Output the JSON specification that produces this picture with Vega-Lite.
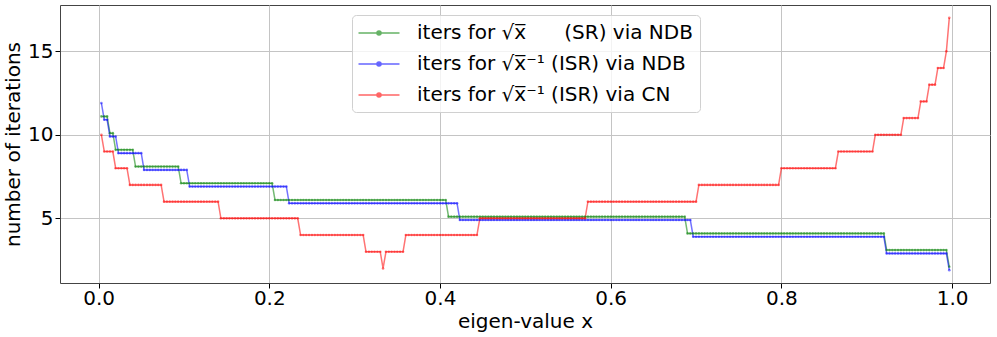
{
  "$schema": "https://vega.github.io/schema/vega-lite/v6.json",
  "width": 930,
  "height": 278,
  "autosize": {"type": "none"},
  "padding": {"left": 60, "top": 5, "right": 7, "bottom": 54},
  "config": {
    "font": "DejaVu Sans",
    "view": {"stroke": "#444", "strokeWidth": 1},
    "axis": {
      "labelFontSize": 20, "titleFontSize": 20, "titleFontWeight": "normal",
      "labelColor": "#000", "titleColor": "#000", "tickColor": "#000",
      "tickSize": 5, "domain": false, "gridColor": "#c4c4c4", "gridWidth": 1,
      "labelFont": "DejaVu Sans", "titleFont": "DejaVu Sans"
    },
    "legend": {"labelFont": "DejaVu Sans"}
  },
  "data": {"values": [
    {"x":0.0033,"g":11.1,"b":11.9,"r":10},
    {"x":0.0067,"g":11.1,"b":10.9,"r":9},{"x":0.01,"g":11.1,"b":10.9,"r":9},
    {"x":0.0133,"g":10.1,"b":9.9,"r":9},{"x":0.0167,"g":10.1,"b":9.9,"r":9},
    {"x":0.02,"g":9.1,"b":9.9,"r":8},
    {"x":0.0233,"g":9.1,"b":8.9,"r":8},{"x":0.0267,"g":9.1,"b":8.9,"r":8},{"x":0.03,"g":9.1,"b":8.9,"r":8},{"x":0.0333,"g":9.1,"b":8.9,"r":8},
    {"x":0.0367,"g":9.1,"b":8.9,"r":7},{"x":0.04,"g":9.1,"b":8.9,"r":7},
    {"x":0.0433,"g":8.1,"b":8.9,"r":7},{"x":0.0467,"g":8.1,"b":8.9,"r":7},{"x":0.05,"g":8.1,"b":8.9,"r":7},
    {"x":0.0533,"g":8.1,"b":7.9,"r":7},{"x":0.0567,"g":8.1,"b":7.9,"r":7},{"x":0.06,"g":8.1,"b":7.9,"r":7},{"x":0.0633,"g":8.1,"b":7.9,"r":7},{"x":0.0667,"g":8.1,"b":7.9,"r":7},{"x":0.07,"g":8.1,"b":7.9,"r":7},{"x":0.0733,"g":8.1,"b":7.9,"r":7},
    {"x":0.0767,"g":8.1,"b":7.9,"r":6},{"x":0.08,"g":8.1,"b":7.9,"r":6},{"x":0.0833,"g":8.1,"b":7.9,"r":6},{"x":0.0867,"g":8.1,"b":7.9,"r":6},{"x":0.09,"g":8.1,"b":7.9,"r":6},{"x":0.0933,"g":8.1,"b":7.9,"r":6},
    {"x":0.0967,"g":7.1,"b":7.9,"r":6},{"x":0.1,"g":7.1,"b":7.9,"r":6},{"x":0.1033,"g":7.1,"b":7.9,"r":6},
    {"x":0.1067,"g":7.1,"b":6.9,"r":6},{"x":0.11,"g":7.1,"b":6.9,"r":6},{"x":0.1133,"g":7.1,"b":6.9,"r":6},{"x":0.1167,"g":7.1,"b":6.9,"r":6},{"x":0.12,"g":7.1,"b":6.9,"r":6},{"x":0.1233,"g":7.1,"b":6.9,"r":6},{"x":0.1267,"g":7.1,"b":6.9,"r":6},{"x":0.13,"g":7.1,"b":6.9,"r":6},{"x":0.1333,"g":7.1,"b":6.9,"r":6},{"x":0.1367,"g":7.1,"b":6.9,"r":6},{"x":0.14,"g":7.1,"b":6.9,"r":6},
    {"x":0.1433,"g":7.1,"b":6.9,"r":5},{"x":0.1467,"g":7.1,"b":6.9,"r":5},{"x":0.15,"g":7.1,"b":6.9,"r":5},{"x":0.1533,"g":7.1,"b":6.9,"r":5},{"x":0.1567,"g":7.1,"b":6.9,"r":5},{"x":0.16,"g":7.1,"b":6.9,"r":5},{"x":0.1633,"g":7.1,"b":6.9,"r":5},{"x":0.1667,"g":7.1,"b":6.9,"r":5},{"x":0.17,"g":7.1,"b":6.9,"r":5},{"x":0.1733,"g":7.1,"b":6.9,"r":5},{"x":0.1767,"g":7.1,"b":6.9,"r":5},{"x":0.18,"g":7.1,"b":6.9,"r":5},{"x":0.1833,"g":7.1,"b":6.9,"r":5},{"x":0.1867,"g":7.1,"b":6.9,"r":5},{"x":0.19,"g":7.1,"b":6.9,"r":5},{"x":0.1933,"g":7.1,"b":6.9,"r":5},{"x":0.1967,"g":7.1,"b":6.9,"r":5},{"x":0.2,"g":7.1,"b":6.9,"r":5},{"x":0.2033,"g":7.1,"b":6.9,"r":5},
    {"x":0.2067,"g":6.1,"b":6.9,"r":5},{"x":0.21,"g":6.1,"b":6.9,"r":5},{"x":0.2133,"g":6.1,"b":6.9,"r":5},{"x":0.2167,"g":6.1,"b":6.9,"r":5},{"x":0.22,"g":6.1,"b":6.9,"r":5},
    {"x":0.2233,"g":6.1,"b":5.9,"r":5},{"x":0.2267,"g":6.1,"b":5.9,"r":5},{"x":0.23,"g":6.1,"b":5.9,"r":5},{"x":0.2333,"g":6.1,"b":5.9,"r":5},
    {"x":0.2367,"g":6.1,"b":5.9,"r":4},{"x":0.24,"g":6.1,"b":5.9,"r":4},{"x":0.2433,"g":6.1,"b":5.9,"r":4},{"x":0.2467,"g":6.1,"b":5.9,"r":4},{"x":0.25,"g":6.1,"b":5.9,"r":4},{"x":0.2533,"g":6.1,"b":5.9,"r":4},{"x":0.2567,"g":6.1,"b":5.9,"r":4},{"x":0.26,"g":6.1,"b":5.9,"r":4},{"x":0.2633,"g":6.1,"b":5.9,"r":4},{"x":0.2667,"g":6.1,"b":5.9,"r":4},{"x":0.27,"g":6.1,"b":5.9,"r":4},{"x":0.2733,"g":6.1,"b":5.9,"r":4},{"x":0.2767,"g":6.1,"b":5.9,"r":4},{"x":0.28,"g":6.1,"b":5.9,"r":4},{"x":0.2833,"g":6.1,"b":5.9,"r":4},{"x":0.2867,"g":6.1,"b":5.9,"r":4},{"x":0.29,"g":6.1,"b":5.9,"r":4},{"x":0.2933,"g":6.1,"b":5.9,"r":4},{"x":0.2967,"g":6.1,"b":5.9,"r":4},{"x":0.3,"g":6.1,"b":5.9,"r":4},{"x":0.3033,"g":6.1,"b":5.9,"r":4},{"x":0.3067,"g":6.1,"b":5.9,"r":4},{"x":0.31,"g":6.1,"b":5.9,"r":4},
    {"x":0.3133,"g":6.1,"b":5.9,"r":3},{"x":0.3167,"g":6.1,"b":5.9,"r":3},{"x":0.32,"g":6.1,"b":5.9,"r":3},{"x":0.3233,"g":6.1,"b":5.9,"r":3},{"x":0.3267,"g":6.1,"b":5.9,"r":3},{"x":0.33,"g":6.1,"b":5.9,"r":3},
    {"x":0.3333,"g":6.1,"b":5.9,"r":2},
    {"x":0.3367,"g":6.1,"b":5.9,"r":3},{"x":0.34,"g":6.1,"b":5.9,"r":3},{"x":0.3433,"g":6.1,"b":5.9,"r":3},{"x":0.3467,"g":6.1,"b":5.9,"r":3},{"x":0.35,"g":6.1,"b":5.9,"r":3},{"x":0.3533,"g":6.1,"b":5.9,"r":3},{"x":0.3567,"g":6.1,"b":5.9,"r":3},
    {"x":0.36,"g":6.1,"b":5.9,"r":4},{"x":0.3633,"g":6.1,"b":5.9,"r":4},{"x":0.3667,"g":6.1,"b":5.9,"r":4},{"x":0.37,"g":6.1,"b":5.9,"r":4},{"x":0.3733,"g":6.1,"b":5.9,"r":4},{"x":0.3767,"g":6.1,"b":5.9,"r":4},{"x":0.38,"g":6.1,"b":5.9,"r":4},{"x":0.3833,"g":6.1,"b":5.9,"r":4},{"x":0.3867,"g":6.1,"b":5.9,"r":4},{"x":0.39,"g":6.1,"b":5.9,"r":4},{"x":0.3933,"g":6.1,"b":5.9,"r":4},{"x":0.3967,"g":6.1,"b":5.9,"r":4},{"x":0.4,"g":6.1,"b":5.9,"r":4},{"x":0.4033,"g":6.1,"b":5.9,"r":4},{"x":0.4067,"g":6.1,"b":5.9,"r":4},
    {"x":0.41,"g":5.1,"b":5.9,"r":4},{"x":0.4133,"g":5.1,"b":5.9,"r":4},{"x":0.4167,"g":5.1,"b":5.9,"r":4},{"x":0.42,"g":5.1,"b":5.9,"r":4},
    {"x":0.4233,"g":5.1,"b":4.9,"r":4},{"x":0.4267,"g":5.1,"b":4.9,"r":4},{"x":0.43,"g":5.1,"b":4.9,"r":4},{"x":0.4333,"g":5.1,"b":4.9,"r":4},{"x":0.4367,"g":5.1,"b":4.9,"r":4},{"x":0.44,"g":5.1,"b":4.9,"r":4},{"x":0.4433,"g":5.1,"b":4.9,"r":4},
    {"x":0.4467,"g":5.1,"b":4.9,"r":5},{"x":0.45,"g":5.1,"b":4.9,"r":5},{"x":0.4533,"g":5.1,"b":4.9,"r":5},{"x":0.4567,"g":5.1,"b":4.9,"r":5},{"x":0.46,"g":5.1,"b":4.9,"r":5},{"x":0.4633,"g":5.1,"b":4.9,"r":5},{"x":0.4667,"g":5.1,"b":4.9,"r":5},{"x":0.47,"g":5.1,"b":4.9,"r":5},{"x":0.4733,"g":5.1,"b":4.9,"r":5},{"x":0.4767,"g":5.1,"b":4.9,"r":5},{"x":0.48,"g":5.1,"b":4.9,"r":5},{"x":0.4833,"g":5.1,"b":4.9,"r":5},{"x":0.4867,"g":5.1,"b":4.9,"r":5},{"x":0.49,"g":5.1,"b":4.9,"r":5},{"x":0.4933,"g":5.1,"b":4.9,"r":5},{"x":0.4967,"g":5.1,"b":4.9,"r":5},{"x":0.5,"g":5.1,"b":4.9,"r":5},{"x":0.5033,"g":5.1,"b":4.9,"r":5},{"x":0.5067,"g":5.1,"b":4.9,"r":5},{"x":0.51,"g":5.1,"b":4.9,"r":5},{"x":0.5133,"g":5.1,"b":4.9,"r":5},{"x":0.5167,"g":5.1,"b":4.9,"r":5},{"x":0.52,"g":5.1,"b":4.9,"r":5},{"x":0.5233,"g":5.1,"b":4.9,"r":5},{"x":0.5267,"g":5.1,"b":4.9,"r":5},{"x":0.53,"g":5.1,"b":4.9,"r":5},{"x":0.5333,"g":5.1,"b":4.9,"r":5},{"x":0.5367,"g":5.1,"b":4.9,"r":5},{"x":0.54,"g":5.1,"b":4.9,"r":5},{"x":0.5433,"g":5.1,"b":4.9,"r":5},{"x":0.5467,"g":5.1,"b":4.9,"r":5},{"x":0.55,"g":5.1,"b":4.9,"r":5},{"x":0.5533,"g":5.1,"b":4.9,"r":5},{"x":0.5567,"g":5.1,"b":4.9,"r":5},{"x":0.56,"g":5.1,"b":4.9,"r":5},{"x":0.5633,"g":5.1,"b":4.9,"r":5},{"x":0.5667,"g":5.1,"b":4.9,"r":5},{"x":0.57,"g":5.1,"b":4.9,"r":5},
    {"x":0.5733,"g":5.1,"b":4.9,"r":6},{"x":0.5767,"g":5.1,"b":4.9,"r":6},{"x":0.58,"g":5.1,"b":4.9,"r":6},{"x":0.5833,"g":5.1,"b":4.9,"r":6},{"x":0.5867,"g":5.1,"b":4.9,"r":6},{"x":0.59,"g":5.1,"b":4.9,"r":6},{"x":0.5933,"g":5.1,"b":4.9,"r":6},{"x":0.5967,"g":5.1,"b":4.9,"r":6},{"x":0.6,"g":5.1,"b":4.9,"r":6},{"x":0.6033,"g":5.1,"b":4.9,"r":6},{"x":0.6067,"g":5.1,"b":4.9,"r":6},{"x":0.61,"g":5.1,"b":4.9,"r":6},{"x":0.6133,"g":5.1,"b":4.9,"r":6},{"x":0.6167,"g":5.1,"b":4.9,"r":6},{"x":0.62,"g":5.1,"b":4.9,"r":6},{"x":0.6233,"g":5.1,"b":4.9,"r":6},{"x":0.6267,"g":5.1,"b":4.9,"r":6},{"x":0.63,"g":5.1,"b":4.9,"r":6},{"x":0.6333,"g":5.1,"b":4.9,"r":6},{"x":0.6367,"g":5.1,"b":4.9,"r":6},{"x":0.64,"g":5.1,"b":4.9,"r":6},{"x":0.6433,"g":5.1,"b":4.9,"r":6},{"x":0.6467,"g":5.1,"b":4.9,"r":6},{"x":0.65,"g":5.1,"b":4.9,"r":6},{"x":0.6533,"g":5.1,"b":4.9,"r":6},{"x":0.6567,"g":5.1,"b":4.9,"r":6},{"x":0.66,"g":5.1,"b":4.9,"r":6},{"x":0.6633,"g":5.1,"b":4.9,"r":6},{"x":0.6667,"g":5.1,"b":4.9,"r":6},{"x":0.67,"g":5.1,"b":4.9,"r":6},{"x":0.6733,"g":5.1,"b":4.9,"r":6},{"x":0.6767,"g":5.1,"b":4.9,"r":6},{"x":0.68,"g":5.1,"b":4.9,"r":6},{"x":0.6833,"g":5.1,"b":4.9,"r":6},{"x":0.6867,"g":5.1,"b":4.9,"r":6},
    {"x":0.69,"g":4.1,"b":4.9,"r":6},{"x":0.6933,"g":4.1,"b":4.9,"r":6},
    {"x":0.6967,"g":4.1,"b":3.9,"r":6},{"x":0.7,"g":4.1,"b":3.9,"r":6},
    {"x":0.7033,"g":4.1,"b":3.9,"r":7},{"x":0.7067,"g":4.1,"b":3.9,"r":7},{"x":0.71,"g":4.1,"b":3.9,"r":7},{"x":0.7133,"g":4.1,"b":3.9,"r":7},{"x":0.7167,"g":4.1,"b":3.9,"r":7},{"x":0.72,"g":4.1,"b":3.9,"r":7},{"x":0.7233,"g":4.1,"b":3.9,"r":7},{"x":0.7267,"g":4.1,"b":3.9,"r":7},{"x":0.73,"g":4.1,"b":3.9,"r":7},{"x":0.7333,"g":4.1,"b":3.9,"r":7},{"x":0.7367,"g":4.1,"b":3.9,"r":7},{"x":0.74,"g":4.1,"b":3.9,"r":7},{"x":0.7433,"g":4.1,"b":3.9,"r":7},{"x":0.7467,"g":4.1,"b":3.9,"r":7},{"x":0.75,"g":4.1,"b":3.9,"r":7},{"x":0.7533,"g":4.1,"b":3.9,"r":7},{"x":0.7567,"g":4.1,"b":3.9,"r":7},{"x":0.76,"g":4.1,"b":3.9,"r":7},{"x":0.7633,"g":4.1,"b":3.9,"r":7},{"x":0.7667,"g":4.1,"b":3.9,"r":7},{"x":0.77,"g":4.1,"b":3.9,"r":7},{"x":0.7733,"g":4.1,"b":3.9,"r":7},{"x":0.7767,"g":4.1,"b":3.9,"r":7},{"x":0.78,"g":4.1,"b":3.9,"r":7},{"x":0.7833,"g":4.1,"b":3.9,"r":7},{"x":0.7867,"g":4.1,"b":3.9,"r":7},{"x":0.79,"g":4.1,"b":3.9,"r":7},{"x":0.7933,"g":4.1,"b":3.9,"r":7},{"x":0.7967,"g":4.1,"b":3.9,"r":7},
    {"x":0.8,"g":4.1,"b":3.9,"r":8},{"x":0.8033,"g":4.1,"b":3.9,"r":8},{"x":0.8067,"g":4.1,"b":3.9,"r":8},{"x":0.81,"g":4.1,"b":3.9,"r":8},{"x":0.8133,"g":4.1,"b":3.9,"r":8},{"x":0.8167,"g":4.1,"b":3.9,"r":8},{"x":0.82,"g":4.1,"b":3.9,"r":8},{"x":0.8233,"g":4.1,"b":3.9,"r":8},{"x":0.8267,"g":4.1,"b":3.9,"r":8},{"x":0.83,"g":4.1,"b":3.9,"r":8},{"x":0.8333,"g":4.1,"b":3.9,"r":8},{"x":0.8367,"g":4.1,"b":3.9,"r":8},{"x":0.84,"g":4.1,"b":3.9,"r":8},{"x":0.8433,"g":4.1,"b":3.9,"r":8},{"x":0.8467,"g":4.1,"b":3.9,"r":8},{"x":0.85,"g":4.1,"b":3.9,"r":8},{"x":0.8533,"g":4.1,"b":3.9,"r":8},{"x":0.8567,"g":4.1,"b":3.9,"r":8},{"x":0.86,"g":4.1,"b":3.9,"r":8},{"x":0.8633,"g":4.1,"b":3.9,"r":8},
    {"x":0.8667,"g":4.1,"b":3.9,"r":9},{"x":0.87,"g":4.1,"b":3.9,"r":9},{"x":0.8733,"g":4.1,"b":3.9,"r":9},{"x":0.8767,"g":4.1,"b":3.9,"r":9},{"x":0.88,"g":4.1,"b":3.9,"r":9},{"x":0.8833,"g":4.1,"b":3.9,"r":9},{"x":0.8867,"g":4.1,"b":3.9,"r":9},{"x":0.89,"g":4.1,"b":3.9,"r":9},{"x":0.8933,"g":4.1,"b":3.9,"r":9},{"x":0.8967,"g":4.1,"b":3.9,"r":9},{"x":0.9,"g":4.1,"b":3.9,"r":9},{"x":0.9033,"g":4.1,"b":3.9,"r":9},{"x":0.9067,"g":4.1,"b":3.9,"r":9},
    {"x":0.91,"g":4.1,"b":3.9,"r":10},{"x":0.9133,"g":4.1,"b":3.9,"r":10},{"x":0.9167,"g":4.1,"b":3.9,"r":10},{"x":0.92,"g":4.1,"b":3.9,"r":10},
    {"x":0.9233,"g":3.1,"b":2.9,"r":10},{"x":0.9267,"g":3.1,"b":2.9,"r":10},{"x":0.93,"g":3.1,"b":2.9,"r":10},{"x":0.9333,"g":3.1,"b":2.9,"r":10},{"x":0.9367,"g":3.1,"b":2.9,"r":10},{"x":0.94,"g":3.1,"b":2.9,"r":10},
    {"x":0.9433,"g":3.1,"b":2.9,"r":11},{"x":0.9467,"g":3.1,"b":2.9,"r":11},{"x":0.95,"g":3.1,"b":2.9,"r":11},{"x":0.9533,"g":3.1,"b":2.9,"r":11},{"x":0.9567,"g":3.1,"b":2.9,"r":11},{"x":0.96,"g":3.1,"b":2.9,"r":11},
    {"x":0.9633,"g":3.1,"b":2.9,"r":12},{"x":0.9667,"g":3.1,"b":2.9,"r":12},{"x":0.97,"g":3.1,"b":2.9,"r":12},
    {"x":0.9733,"g":3.1,"b":2.9,"r":13},{"x":0.9767,"g":3.1,"b":2.9,"r":13},{"x":0.98,"g":3.1,"b":2.9,"r":13},
    {"x":0.9833,"g":3.1,"b":2.9,"r":14},{"x":0.9867,"g":3.1,"b":2.9,"r":14},{"x":0.99,"g":3.1,"b":2.9,"r":14},
    {"x":0.9933,"g":3.1,"b":2.9,"r":15},
    {"x":0.9967,"g":2.1,"b":1.9,"r":17}
  ]},
  "transform": [{"fold": ["g", "b", "r"], "as": ["series", "iters"]}],
  "mark": {
    "type": "line", "strokeWidth": 1.5, "opacity": 0.55, "clip": true,
    "point": {"filled": true, "size": 7, "opacity": 0.5}
  },
  "encoding": {
    "x": {
      "field": "x", "type": "quantitative",
      "scale": {"domain": [-0.0452, 1.0444], "nice": false, "zero": false},
      "axis": {"values": [0, 0.2, 0.4, 0.6, 0.8, 1.0], "format": ".1f", "title": "eigen-value x", "labelPadding": 0, "titlePadding": 3}
    },
    "y": {
      "field": "iters", "type": "quantitative",
      "scale": {"domain": [1.13, 17.77], "nice": false, "zero": false},
      "axis": {"values": [5, 10, 15], "title": "number of iterations", "labelPadding": 2, "titlePadding": 4}
    },
    "color": {
      "field": "series", "type": "nominal",
      "scale": {"domain": ["g", "b", "r"], "range": ["#008000", "#0000ff", "#ff0000"]},
      "legend": {
        "title": null, "orient": "none", "legendX": 292, "legendY": 10,
        "padding": 7, "fillColor": "rgba(255,255,255,0.8)", "strokeColor": "#d0d0d0", "cornerRadius": 4,
        "symbolType": "M-2,0H2M0.2,0A0.2,0.2,0,1,1,-0.2,0A0.2,0.2,0,1,1,0.2,0",
        "symbolSize": 420, "symbolStrokeWidth": 1.5, "symbolOpacity": 0.6, "symbolOffset": 9,
        "labelFontSize": 20, "labelColor": "#000", "labelOffset": 27, "rowPadding": 10,
        "labelLimit": 400,
        "labelExpr": "datum.label == 'g' ? 'iters for \u221ax\u0305\u00a0\u00a0\u00a0\u00a0\u00a0\u00a0(SR) via NDB' : datum.label == 'b' ? 'iters for \u221ax\u0305\u207b\u00b9 (ISR) via NDB' : 'iters for \u221ax\u0305\u207b\u00b9 (ISR) via CN'"
      }
    }
  }
}
